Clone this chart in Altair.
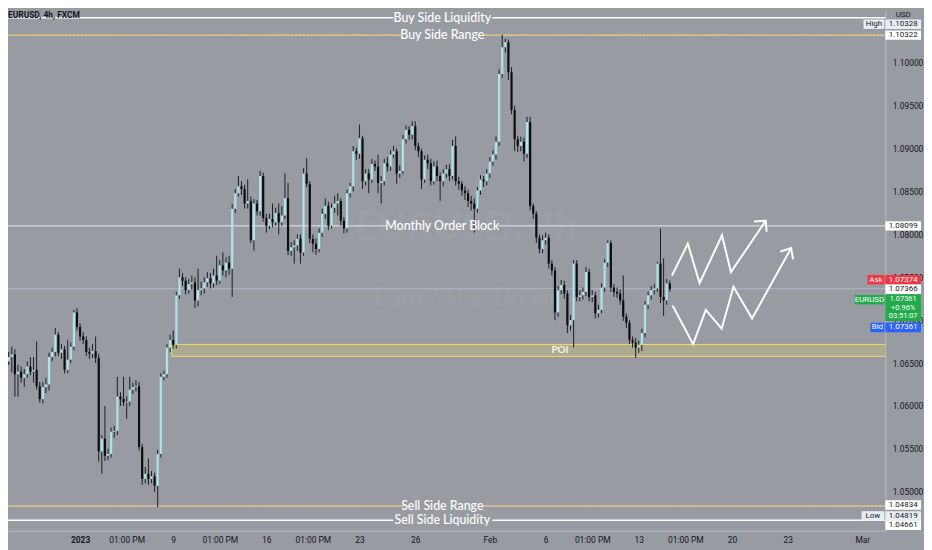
import json
import altair as alt
import pandas as pd

# EURUSD 4h candles, oldest first (open of each bar = previous close)
first_open = 1.0631
closes = [
    1.0652, 1.0657, 1.0660, 1.0637, 1.0640, 1.0633, 1.0637, 1.0646, 1.0640, 1.0642,
    1.0623, 1.0608, 1.0622, 1.0625, 1.0657, 1.0663, 1.0683, 1.0662, 1.0666, 1.0642,
    1.0654, 1.0669, 1.0709, 1.0692, 1.0681, 1.0677, 1.0663, 1.0661, 1.0664, 1.0656,
    1.0547, 1.0562, 1.0542, 1.0544, 1.0570, 1.0571, 1.0611, 1.0608, 1.0604, 1.0605,
    1.0619, 1.0622, 1.0623, 1.0552, 1.0515, 1.0521, 1.0515, 1.0518, 1.0507, 1.0544,
    1.0634, 1.0637, 1.0668, 1.0677, 1.0671, 1.0729, 1.0750, 1.0746, 1.0735, 1.0742,
    1.0744, 1.0723, 1.0735, 1.0737, 1.0744, 1.0749, 1.0743, 1.0752, 1.0746, 1.0764,
    1.0758, 1.0767, 1.0760, 1.0830, 1.0848, 1.0856, 1.0853, 1.0836, 1.0839, 1.0793,
    1.0836, 1.0827, 1.0868, 1.0819, 1.0810, 1.0818, 1.0814, 1.0825, 1.0814, 1.0822,
    1.0842, 1.0781, 1.0785, 1.0787, 1.0795, 1.0779, 1.0871, 1.0859, 1.0795, 1.0789,
    1.0783, 1.0802, 1.0824, 1.0833, 1.0810, 1.0831, 1.0836, 1.0839, 1.0816, 1.0807,
    1.0848, 1.0856, 1.0897, 1.0894, 1.0912, 1.0862, 1.0871, 1.0864, 1.0882, 1.0879,
    1.0860, 1.0862, 1.0883, 1.0879, 1.0893, 1.0897, 1.0871, 1.0874, 1.0911, 1.0922,
    1.0916, 1.0926, 1.0903, 1.0897, 1.0864, 1.0887, 1.0883, 1.0862, 1.0879, 1.0868,
    1.0862, 1.0871, 1.0876, 1.0868, 1.0903, 1.0862, 1.0859, 1.0851, 1.0848, 1.0839,
    1.0836, 1.0830, 1.0851, 1.0864, 1.0862, 1.0871, 1.0885, 1.0893, 1.0908, 1.0987,
    1.1018, 1.1024, 1.0989, 1.0945, 1.0911, 1.0903, 1.0908, 1.0894, 1.0931, 1.0833,
    1.0824, 1.0796, 1.0783, 1.0793, 1.0796, 1.0766, 1.0758, 1.0709, 1.0735, 1.0741,
    1.0731, 1.0694, 1.0700, 1.0766, 1.0727, 1.0729, 1.0733, 1.0756, 1.0727, 1.0729,
    1.0708, 1.0712, 1.0738, 1.0767, 1.0790, 1.0738, 1.0733, 1.0731, 1.0723, 1.0704,
    1.0697, 1.0677, 1.0674, 1.0668, 1.0671, 1.0685, 1.0718, 1.0729, 1.0735, 1.0737,
    1.0766, 1.0727, 1.0723, 1.0743, 1.0736,
]
highs = [
    1.0658, 1.0663, 1.0669, 1.0666, 1.0648, 1.0646, 1.0643, 1.0652, 1.0657, 1.0657,
    1.0675, 1.0628, 1.0628, 1.0633, 1.0662, 1.0668, 1.0691, 1.0686, 1.0672, 1.0670,
    1.0677, 1.0674, 1.0712, 1.0714, 1.0696, 1.0686, 1.0681, 1.0668, 1.0672, 1.0681,
    1.0661, 1.0566, 1.0600, 1.0550, 1.0575, 1.0577, 1.0634, 1.0616, 1.0634, 1.0611,
    1.0634, 1.0627, 1.0630, 1.0628, 1.0556, 1.0529, 1.0539, 1.0524, 1.0522, 1.0549,
    1.0638, 1.0641, 1.0672, 1.0683, 1.0688, 1.0733, 1.0760, 1.0755, 1.0750, 1.0748,
    1.0752, 1.0750, 1.0760, 1.0745, 1.0750, 1.0756, 1.0755, 1.0760, 1.0775, 1.0770,
    1.0779, 1.0773, 1.0775, 1.0835, 1.0853, 1.0868, 1.0862, 1.0858, 1.0864, 1.0844,
    1.0841, 1.0840, 1.0874, 1.0872, 1.0824, 1.0824, 1.0836, 1.0831, 1.0836, 1.0833,
    1.0871, 1.0860, 1.0791, 1.0793, 1.0800, 1.0800, 1.0877, 1.0889, 1.0862, 1.0800,
    1.0795, 1.0807, 1.0830, 1.0842, 1.0838, 1.0836, 1.0845, 1.0848, 1.0842, 1.0820,
    1.0852, 1.0860, 1.0903, 1.0901, 1.0928, 1.0915, 1.0876, 1.0876, 1.0888, 1.0886,
    1.0893, 1.0868, 1.0888, 1.0890, 1.0898, 1.0903, 1.0900, 1.0880, 1.0916, 1.0927,
    1.0926, 1.0932, 1.0932, 1.0907, 1.0900, 1.0892, 1.0893, 1.0888, 1.0885, 1.0886,
    1.0872, 1.0876, 1.0881, 1.0882, 1.0910, 1.0914, 1.0867, 1.0862, 1.0856, 1.0852,
    1.0845, 1.0842, 1.0855, 1.0869, 1.0868, 1.0876, 1.0890, 1.0898, 1.0914, 1.0992,
    1.10328, 1.1028, 1.1027, 1.0995, 1.0950, 1.0915, 1.0914, 1.0913, 1.0937, 1.0937,
    1.0836, 1.0827, 1.0800, 1.0799, 1.0802, 1.0800, 1.0770, 1.0762, 1.0740, 1.0747,
    1.0746, 1.0735, 1.0706, 1.0770, 1.0770, 1.0735, 1.0738, 1.0762, 1.0760, 1.0735,
    1.0733, 1.0718, 1.0743, 1.0771, 1.0793, 1.0793, 1.0742, 1.0738, 1.0736, 1.0752,
    1.0708, 1.0700, 1.0681, 1.0679, 1.0676, 1.0690, 1.0722, 1.0733, 1.0740, 1.0742,
    1.0768, 1.0807, 1.0772, 1.0748, 1.0746,
]
lows = [
    1.0626, 1.0648, 1.0639, 1.0611, 1.0611, 1.0627, 1.0622, 1.0633, 1.0636, 1.0627,
    1.0619, 1.0604, 1.0603, 1.0615, 1.0618, 1.0652, 1.0658, 1.0658, 1.0655, 1.0638,
    1.0638, 1.0650, 1.0665, 1.0688, 1.0676, 1.0672, 1.0658, 1.0655, 1.0656, 1.0650,
    1.0535, 1.0521, 1.0536, 1.0537, 1.0540, 1.0563, 1.0566, 1.0600, 1.0600, 1.0585,
    1.0600, 1.0614, 1.0617, 1.0548, 1.0508, 1.0510, 1.0508, 1.0510, 1.0500, 1.04819,
    1.0540, 1.0630, 1.0633, 1.0663, 1.0667, 1.0667, 1.0725, 1.0740, 1.0730, 1.0731,
    1.0736, 1.0714, 1.0716, 1.0729, 1.0731, 1.0739, 1.0737, 1.0738, 1.0741, 1.0742,
    1.0752, 1.0750, 1.0753, 1.0727, 1.0825, 1.0844, 1.0846, 1.0830, 1.0830, 1.0790,
    1.0781, 1.0822, 1.0822, 1.0815, 1.0802, 1.0806, 1.0808, 1.0810, 1.0800, 1.0810,
    1.0818, 1.0776, 1.0775, 1.0766, 1.0781, 1.0766, 1.0775, 1.0855, 1.0790, 1.0779,
    1.0776, 1.0779, 1.0797, 1.0818, 1.0805, 1.0807, 1.0825, 1.0822, 1.0810, 1.0801,
    1.0802, 1.0843, 1.0850, 1.0887, 1.0888, 1.0853, 1.0857, 1.0848, 1.0860, 1.0874,
    1.0848, 1.0836, 1.0857, 1.0873, 1.0874, 1.0889, 1.0859, 1.0866, 1.0870, 1.0906,
    1.0910, 1.0911, 1.0898, 1.0890, 1.0853, 1.0860, 1.0876, 1.0857, 1.0858, 1.0862,
    1.0839, 1.0856, 1.0866, 1.0862, 1.0864, 1.0857, 1.0852, 1.0845, 1.0840, 1.0832,
    1.0828, 1.0802, 1.0825, 1.0846, 1.0855, 1.0857, 1.0866, 1.0880, 1.0887, 1.0903,
    1.0982, 1.1012, 1.0980, 1.0940, 1.0897, 1.0896, 1.0897, 1.0885, 1.0889, 1.0828,
    1.0818, 1.0790, 1.0778, 1.0778, 1.0788, 1.0760, 1.0752, 1.0700, 1.0704, 1.0730,
    1.0725, 1.0685, 1.0688, 1.0668, 1.0722, 1.0722, 1.0724, 1.0728, 1.0722, 1.0721,
    1.0702, 1.0703, 1.0708, 1.0733, 1.0762, 1.0733, 1.0727, 1.0726, 1.0718, 1.0699,
    1.0691, 1.0672, 1.0668, 1.0656, 1.0662, 1.0664, 1.0680, 1.0713, 1.0724, 1.0730,
    1.0733, 1.0720, 1.0705, 1.0718, 1.0733,
]

# time axis (candle index -> label)
tick_idx = [24, 39, 54, 69, 84, 99, 114, 132, 156, 174, 189, 204, 219, 234, 252, 276]
tick_text = ["2023", "01:00 PM", "9", "01:00 PM", "16", "01:00 PM", "23", "26",
             "Feb", "6", "01:00 PM", "13", "01:00 PM", "20", "23", "Mar"]
price_ticks = [1.05, 1.055, 1.06, 1.065, 1.07, 1.075, 1.08, 1.085, 1.09, 1.095, 1.10]

# marked levels: name, price, style, and the candle span left free for the label
level_names = ["Buy Side Liquidity", "Buy Side Range", "Monthly Order Block",
               "Sell Side Range", "Sell Side Liquidity"]
level_prices = [1.10524, 1.10322, 1.08099, 1.04834, 1.04667]
level_style = ["solid", "dashed", "thin", "dashed", "solid"]
gap_from = [124.9, 127.4, 122.7, 128.4, 124.9]
gap_to = [156.8, 154.3, 158.7, 153.6, 156.8]
label_at = 140.7

poi_top, poi_bottom = 1.06717, 1.06578
poi_from, poi_to = 53.5, 300
poi_label_at = 178.6
last_price = 1.07366

# projected paths (candle index, price)
path_id = ["a"] * 6 + ["ah"] * 3 + ["b"] * 7 + ["bh"] * 3
path_x = [214.7, 219.8, 223.6, 230.8, 233.7, 244.9,
          241.1, 244.9, 245.2,
          214.9, 221.5, 225.6, 230.7, 234.5, 240.5, 253.1,
          249.6, 253.1, 253.7]
path_y = [1.0752, 1.0789, 1.0743, 1.0799, 1.0756, 1.0816,
          1.0815, 1.0816, 1.0803,
          1.0717, 1.0672, 1.0712, 1.0690, 1.0739, 1.0702, 1.0784,
          1.0780, 1.0784, 1.0771]

# price scale tags
box_price = [1.10328, 1.10322, 1.08099, 1.07374, 1.07366, 1.07361, 1.04834, 1.04819, 1.04661]
box_fill = ["#e9ecf2", "#ffffff", "#ffffff", "#f23645", "#ffffff", "#2962ff", "#ffffff", "#e9ecf2", "#ffffff"]
box_ink = ["#131722", "#131722", "#131722", "#ffffff", "#131722", "#ffffff", "#131722", "#131722", "#131722"]
box_nudge = [-10.5, 0, 0, -8.5, 0.5, 38.6, -1, 8.7, 4.5]

side_text = ["High", "Ask", "EURUSD", "Bid", "Low"]
side_price = [1.10328, 1.07374, 1.07361, 1.07361, 1.04819]
side_nudge = [-10.5, -8.5, 10.6, 38.6, 8.7]
side_fill = ["#e9ecf2", "#f23645", "#22ab4a", "#2962ff", "#e9ecf2"]
side_ink = ["#131722", "#ffffff", "#ffffff", "#ffffff", "#131722"]
side_left = [863, 867, 854, 870, 861]

quote_lines = ["1.07361", "+0.96%", "03:51:07"]
quote_nudge = [9.8, 18.6, 27.0]

BG = "#999ba3"
INK = "#131722"
UP = "#aee6e8"
DOWN = "#0c0d10"
WICK = "#1c1e24"
W, H = 885, 525

xs = alt.Scale(domain=[2.37, 281.84], nice=False, zero=False)
ys = alt.Scale(domain=[1.04545, 1.10611], nice=False, zero=False)
label_expr = f"{json.dumps(tick_text)}[indexof({json.dumps(tick_idx)}, datum.value)]"
x_axis = alt.Axis(values=tick_idx, labelExpr=label_expr, grid=False, ticks=False,
                  domainColor="#b8bbc3", labelColor=INK, labelFont="Roboto",
                  labelFontSize=8.5, labelPadding=5, labelOverlap=False, labelFlush=False,
                  labelFontWeight={"expr": "datum.value == 24 ? 'bold' : 'normal'"})
y_axis = alt.Axis(values=price_ticks, format=".5f", orient="right", grid=False, ticks=False,
                  domainColor="#b8bbc3", labelColor=INK, labelFont="Roboto",
                  labelFontSize=8.5, labelPadding=7, labelOverlap=False, labelFlush=False)


def X(f):
    return alt.X(f, type="quantitative", scale=xs, axis=x_axis, title=None)


def Y(f):
    return alt.Y(f, type="quantitative", scale=ys, axis=y_axis, title=None)


opens = [first_open] + closes[:-1]
candles = pd.DataFrame({"i": range(len(closes)), "open": opens, "close": closes,
                        "high": [max(h, o, c) for h, o, c in zip(highs, opens, closes)],
                        "low": [min(l, o, c) for l, o, c in zip(lows, opens, closes)]})
candles["dir"] = ["up" if c >= o else "down" for o, c in zip(opens, closes)]

levels = pd.DataFrame({"name": level_names, "p": level_prices, "style": level_style,
                       "g0": gap_from, "g1": gap_to, "at": label_at})
segs = pd.concat([
    levels.assign(x0=0, x1=levels["g0"]),
    levels.assign(x0=levels["g1"], x1=300),
])

layers = []

# faint symbol watermark
wm = pd.DataFrame({"x": [148.3, 148.3], "p": [1.0807, 1.0726],
                   "t": ["EURUSD, 4h", "Euro / U.S. Dollar"], "s": [40, 24]})
layers.append(alt.Chart(wm).mark_text(color="#ffffff", opacity=0.03, font="Lato",
                                      fontWeight="bold").encode(
    x=X("x"), y=Y("p"), text="t:N", size=alt.Size("s:Q", scale=None, legend=None)))

# POI zone
poi = pd.DataFrame({"x0": [poi_from], "x1": [poi_to], "top": [poi_top], "bottom": [poi_bottom]})
layers.append(alt.Chart(poi).mark_rect(clip=True, fill="#d8c870", fillOpacity=0.33,
                                       stroke="#f2dc5d", strokeWidth=1).encode(
    x=X("x0"), x2="x1", y=Y("top"), y2="bottom"))
layers.append(alt.Chart(pd.DataFrame({"x": [poi_label_at], "p": [(poi_top + poi_bottom) / 2]}))
              .mark_text(text="POI", color="#f6f3e4", font="Lato", fontSize=10, fontWeight="bold")
              .encode(x=X("x"), y=Y("p")))

# last price line
layers.append(alt.Chart(pd.DataFrame({"p": [last_price]})).mark_rule(
    color="#b9bdd6", strokeWidth=1, opacity=0.8).encode(y=Y("p")))

# level lines
solid = segs[segs["style"] == "solid"]
thin = segs[segs["style"] == "thin"]
dashed = segs[segs["style"] == "dashed"]
layers.append(alt.Chart(solid).mark_rule(clip=True, color="#ffffff", strokeWidth=1.5).encode(
    x=X("x0"), x2="x1", y=Y("p")))
layers.append(alt.Chart(thin).mark_rule(clip=True, color="#e8eaef", strokeWidth=1).encode(
    x=X("x0"), x2="x1", y=Y("p")))
layers.append(alt.Chart(dashed).mark_rule(clip=True, color="#ffffff", strokeWidth=1, opacity=0.6).encode(
    x=X("x0"), x2="x1", y=Y("p")))
layers.append(alt.Chart(dashed).mark_rule(clip=True, color="#f0c24b", strokeWidth=1.6,
                                          strokeDash=[2, 2]).encode(
    x=X("x0"), x2="x1", y=Y("p")))

# candles
layers.append(alt.Chart(candles).mark_rule(clip=True, color=WICK, strokeWidth=1).encode(
    x=X("i"), y=Y("low"), y2="high"))
layers.append(alt.Chart(candles).mark_bar(clip=True, size=2.2).encode(
    x=X("i"), y=Y("open"), y2="close",
    color=alt.Color("dir:N", scale=alt.Scale(domain=["up", "down"], range=[UP, DOWN]), legend=None)))

# level labels
layers.append(alt.Chart(levels).mark_text(color="#ffffff", font="Lato", fontSize=12.5,
                                          fontWeight=500, baseline="middle").encode(
    x=X("at"), y=Y("p"), text="name:N"))

# projection arrows
paths = pd.DataFrame({"id": path_id, "x": path_x, "p": path_y, "k": range(len(path_id))})
layers.append(alt.Chart(paths).mark_line(color="#ffffff", strokeWidth=2, strokeJoin="miter").encode(
    x=X("x"), y=Y("p"), detail="id:N", order="k:Q"))

# price scale tags
for p, fill, ink, nudge in zip(box_price, box_fill, box_ink, box_nudge):
    d = pd.DataFrame({"p": [p]})
    layers.append(alt.Chart(d).mark_rule(color=fill, strokeWidth=9.5, strokeCap="butt", yOffset=nudge)
                  .encode(x=alt.value(W), x2=alt.value(W + 36), y=Y("p")))
    layers.append(alt.Chart(d).mark_text(text=f"{p:.5f}", color=ink, font="Roboto", fontSize=8,
                                         yOffset=nudge, baseline="middle")
                  .encode(x=alt.value(W + 18), y=Y("p")))
for t, p, fill, ink, nudge, left in zip(side_text, side_price, side_fill, side_ink, side_nudge, side_left):
    d = pd.DataFrame({"p": [p]})
    layers.append(alt.Chart(d).mark_rule(color=fill, strokeWidth=9.5, strokeCap="butt", yOffset=nudge)
                  .encode(x=alt.value(left), x2=alt.value(W - 1), y=Y("p")))
    layers.append(alt.Chart(d).mark_text(text=t, color=ink, font="Roboto", fontSize=8,
                                         yOffset=nudge, baseline="middle")
                  .encode(x=alt.value((left + W - 1) / 2), y=Y("p")))
quote = pd.DataFrame({"p": [last_price - 0.00005]})
layers.append(alt.Chart(quote).mark_rule(color="#22ab4a", strokeWidth=27, strokeCap="butt", yOffset=18.6)
              .encode(x=alt.value(W), x2=alt.value(W + 36), y=Y("p")))
for t, nudge in zip(quote_lines, quote_nudge):
    layers.append(alt.Chart(quote).mark_text(text=t, color="#ffffff", font="Roboto", fontSize=7.5,
                                             yOffset=nudge, baseline="middle")
                  .encode(x=alt.value(W + 18), y=Y("p")))

# header texts
layers.append(alt.Chart(pd.DataFrame({"t": ["EURUSD, 4h, FXCM"]})).mark_text(
    color=INK, font="Roboto", fontSize=8.5, fontWeight="bold", align="left", baseline="top").encode(
    x=alt.value(0), y=alt.value(1), text="t:N"))
layers.append(alt.Chart(pd.DataFrame({"t": ["USD"]})).mark_text(
    color=INK, font="Roboto", fontSize=8, baseline="top").encode(
    x=alt.value(W + 18), y=alt.value(1), text="t:N"))

chart = alt.layer(*layers).properties(
    width=W, height=H, autosize="none",
    padding={"left": 0, "top": 0, "right": 39, "bottom": 17},
    background=BG,
).configure_view(stroke=None)

chart.save("out.html", embed_options={"renderer": "svg", "actions": False})
